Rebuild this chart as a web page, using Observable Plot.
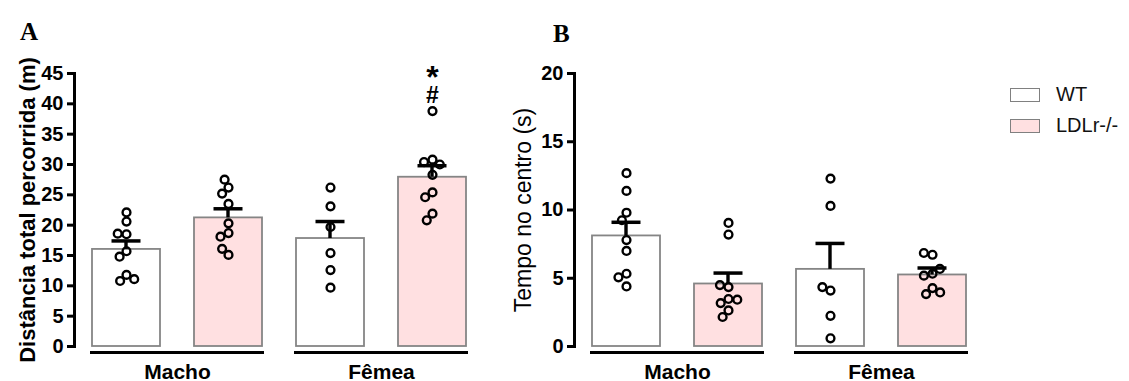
<!DOCTYPE html>
<html><head><meta charset="utf-8">
<script src="https://cdn.jsdelivr.net/npm/d3@7"></script>
<script src="https://cdn.jsdelivr.net/npm/@observablehq/plot@0.6"></script>
<style>
html,body{margin:0;padding:0;background:#fff}
body{width:1129px;height:381px;position:relative;overflow:hidden;font-family:"Liberation Sans",Arial,sans-serif}
.panel{position:absolute;top:0}
.tag{position:absolute;font-family:"Liberation Serif","Times New Roman",serif;font-weight:bold;font-size:25px;line-height:1}
.lg{position:absolute;left:1010px;display:flex;align-items:center;font-size:20px;color:#111}
.lg .sw{width:28px;height:12px;border:1.5px solid #808080;margin-right:16px}
</style></head><body>
<div id="A" class="panel" style="left:0"></div>
<div id="B" class="panel" style="left:500px"></div>
<div class="tag" style="left:20px;top:19px">A</div>
<div class="tag" style="left:553px;top:21px">B</div>
<div id="legend"></div>
<script>
// ---- data ----
const sexes = ["Macho", "Fêmea"];
const genotypes = ["WT", "LDLr-/-"];
const genotypeColors = ["#ffffff", "#ffe0e1"];

// Panel A: Distância total percorrida (m)
const meanA = [16.0, 21.2, 17.8, 27.9];
const semA = [1.4, 1.5, 2.8, 1.9];
const pointsA_machoWT = [22.1, 20.6, 18.5, 18.6, 15.7, 14.8, 11.8, 10.8, 11.1];
const pointsA_machoLDL = [26.2, 25.2, 27.5, 23.5, 20.3, 18.7, 18.1, 15.1, 16.1];
const pointsA_femeaWT = [26.2, 23.1, 19.7, 15.4, 12.6, 9.7];
const pointsA_femeaLDL = [38.8, 30.8, 30.4, 30.0, 28.3, 25.4, 24.6, 21.9, 20.8];
const ticksA = [0, 5, 10, 15, 20, 25, 30, 35, 40, 45];
const labelA = "Distância total percorrida (m)";
const starA = [{sex: "Fêmea", geno: "LDLr-/-", text: "*"}];
const hashA = [{sex: "Fêmea", geno: "LDLr-/-", text: "#"}];

// Panel B: Tempo no centro (s)
const meanB = [8.1, 4.58, 5.65, 5.24];
const semB = [1.0, 0.8, 1.9, 0.51];
const pointsB_machoWT = [12.7, 11.4, 9.8, 9.25, 7.8, 7.0, 5.33, 5.07, 4.4];
const pointsB_machoLDL = [9.05, 8.2, 4.35, 4.5, 3.48, 3.18, 3.43, 2.64, 2.16];
const pointsB_femeaWT = [12.3, 10.3, 4.1, 4.35, 2.25, 0.6];
const pointsB_femeaLDL = [6.72, 6.85, 5.33, 5.19, 5.68, 4.28, 3.84, 3.96];
const ticksB = [0, 5, 10, 15, 20];
const labelB = "Tempo no centro (s)";

// ---- build ----
const combos = sexes.flatMap(s => genotypes.map(g => ({sex: s, geno: g, key: s + "|" + g})));
const keys = combos.map(c => c.key);
const keyed = arr => (arr || []).map(a => ({key: a.sex + "|" + a.geno, text: a.text}));

function panel({means, sems, points, ticks, label, labelWeight, labelSize, labelDx, stars, hashes}) {
  const bars = combos.map((c, i) => ({...c, mean: means[i], sem: sems[i]}));
  const dots = combos.flatMap((c, i) => points[i].map(v => ({key: c.key, value: v})));
  const wt = bars.filter(b => b.geno === genotypes[0]);
  const ldl = bars.filter(b => b.geno === genotypes[1]);
  return Plot.plot({
    width: 490, height: 381,
    marginLeft: 75, marginRight: 7, marginTop: 73, marginBottom: 35,
    style: {fontFamily: "'Liberation Sans', Arial, sans-serif", color: "#000", overflow: "visible"},
    fx: {domain: keys, padding: 0, axis: null, label: null},
    y: {domain: [ticks[0], ticks[ticks.length - 1]], axis: null},
    color: {domain: genotypes, range: genotypeColors},
    marks: [
      Plot.barY(bars, {fx: "key", y: "mean", fill: "geno", stroke: "#858585", strokeWidth: 1.8, insetLeft: 17, insetRight: 17}),
      Plot.rectY(bars, {fx: "key", y1: "mean", y2: d => d.mean + d.sem, fill: "black", insetLeft: 49.3, insetRight: 49.3}),
      Plot.tickY(bars, {fx: "key", y: d => d.mean + d.sem, stroke: "black", strokeWidth: 3.5, insetLeft: 36.5, insetRight: 36.5}),
      Plot.dot(dots, Plot.dodgeX("middle", {fx: "key", y: "value", r: 3.9, stroke: "black", strokeWidth: 2.4, fill: "none", padding: 4})),
      Plot.axisY({ticks, tickSize: 8, tickPadding: 4, strokeWidth: 3, fontWeight: "bold", fontSize: 20, label: null}),
      Plot.frame({anchor: "left", facetAnchor: "left", stroke: "black", strokeWidth: 3, dx: -1}),
      Plot.text([{key: keys[0], text: label}], {fx: "key", text: "text", frameAnchor: "left", textAnchor: "middle", rotate: -90, dx: labelDx, lineAnchor: "middle", fontSize: labelSize, fontWeight: labelWeight}),
      Plot.ruleY(wt, {fx: "key", y: ticks[0], dy: 6, insetLeft: 15, stroke: "black", strokeWidth: 3}),
      Plot.ruleY(ldl, {fx: "key", y: ticks[0], dy: 6, insetRight: 15, stroke: "black", strokeWidth: 3}),
      Plot.text(wt, {fx: "key", text: "sex", frameAnchor: "bottom-right", textAnchor: "middle", lineAnchor: "middle", dy: 26, fontSize: 21, fontWeight: "bold"}),
      Plot.text(keyed(stars), {fx: "key", text: "text", frameAnchor: "top", lineAnchor: "middle", dy: 4, fontSize: 32, fontWeight: "bold"}),
      Plot.text(keyed(hashes), {fx: "key", text: "text", frameAnchor: "top", lineAnchor: "middle", dy: 22, fontSize: 23, fontWeight: "bold"})
    ]
  });
}

document.getElementById("A").append(panel({
  means: meanA, sems: semA,
  points: [pointsA_machoWT, pointsA_machoLDL, pointsA_femeaWT, pointsA_femeaLDL],
  ticks: ticksA, label: labelA, labelWeight: "bold", labelSize: 22, labelDx: -48, stars: starA, hashes: hashA
}));
document.getElementById("B").append(panel({
  means: meanB, sems: semB,
  points: [pointsB_machoWT, pointsB_machoLDL, pointsB_femeaWT, pointsB_femeaLDL],
  ticks: ticksB, label: labelB, labelWeight: "normal", labelSize: 23, labelDx: -52
}));

// legend
const lg = document.getElementById("legend");
genotypes.forEach((g, i) => {
  const row = document.createElement("div");
  row.className = "lg";
  row.style.top = (83 + i * 31) + "px";
  const sw = document.createElement("div");
  sw.className = "sw";
  sw.style.background = genotypeColors[i];
  const t = document.createElement("span");
  t.textContent = g;
  row.append(sw, t);
  lg.append(row);
});
</script>
</body></html>
